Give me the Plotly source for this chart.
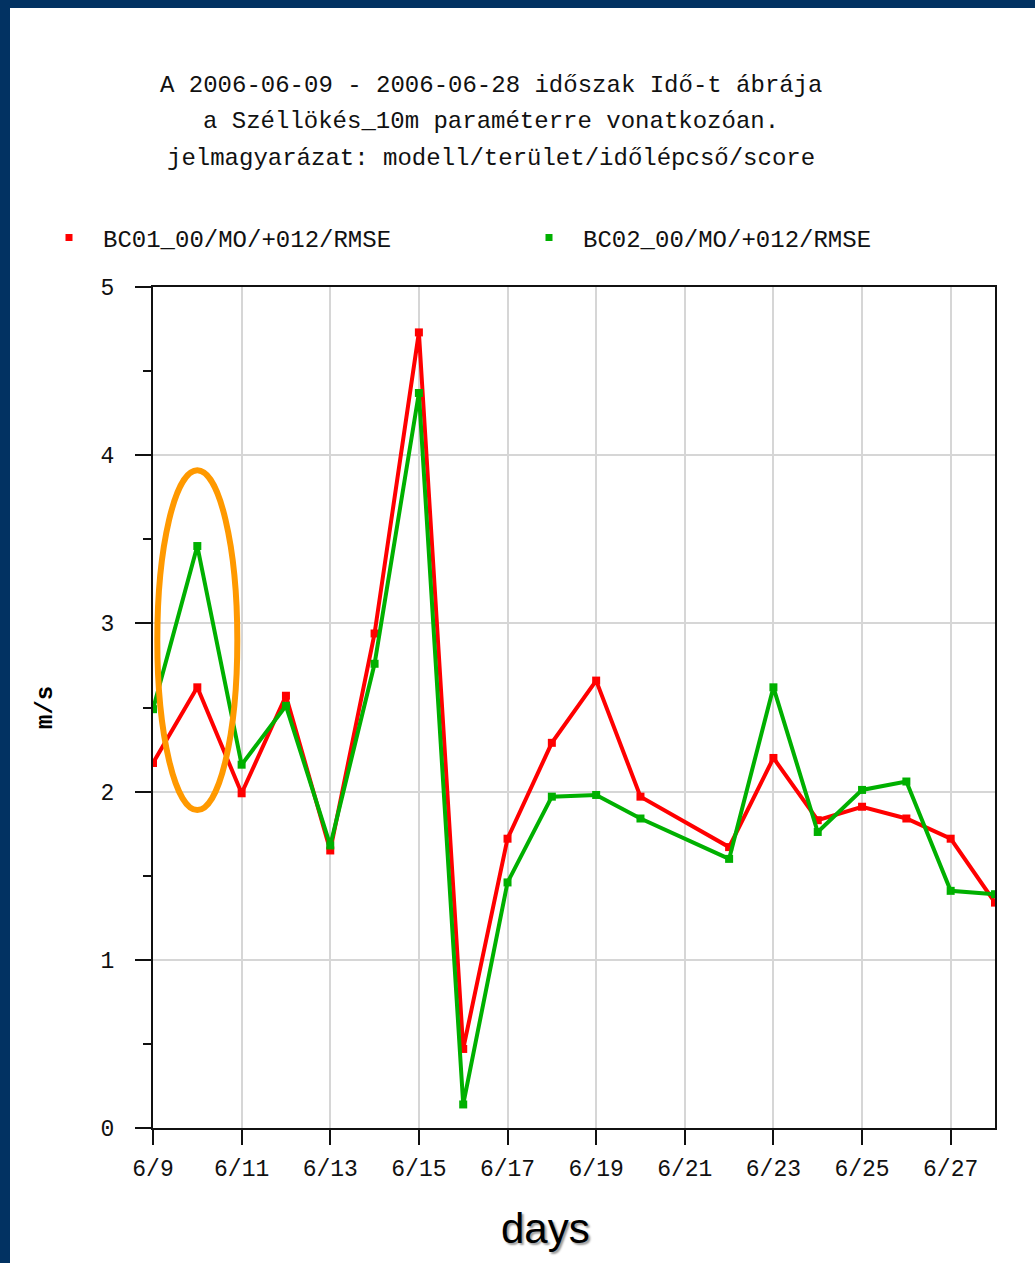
import plotly.graph_objects as go

# Daily RMSE of 10 m wind gust, 12 h forecasts, two model runs
days = ["2006-06-09", "2006-06-10", "2006-06-11", "2006-06-12", "2006-06-13",
        "2006-06-14", "2006-06-15", "2006-06-16", "2006-06-17", "2006-06-18",
        "2006-06-19", "2006-06-20", "2006-06-22", "2006-06-23", "2006-06-24",
        "2006-06-25", "2006-06-26", "2006-06-27", "2006-06-28"]
bc01_rmse = [2.17, 2.62, 1.99, 2.57, 1.65, 2.94, 4.73, 0.47, 1.72, 2.29,
             2.66, 1.97, 1.67, 2.20, 1.83, 1.91, 1.84, 1.72, 1.34]
bc02_rmse = [2.49, 3.46, 2.16, 2.51, 1.68, 2.76, 4.37, 0.14, 1.46, 1.97,
             1.98, 1.84, 1.60, 2.62, 1.76, 2.01, 2.06, 1.41, 1.39]

series_names = ["BC01_00/MO/+012/RMSE", "BC02_00/MO/+012/RMSE"]
tick_days = ["2006-06-09", "2006-06-11", "2006-06-13", "2006-06-15", "2006-06-17",
             "2006-06-19", "2006-06-21", "2006-06-23", "2006-06-25", "2006-06-27"]
tick_text = ["6/9", "6/11", "6/13", "6/15", "6/17", "6/19", "6/21", "6/23", "6/25", "6/27"]
title_lines = ["A 2006-06-09 - 2006-06-28 időszak Idő-t ábrája",
               "a Széllökés_10m paraméterre vonatkozóan.",
               "jelmagyarázat: modell/terület/időlépcső/score"]

RED = "#ff0000"
GREEN = "#00b000"
NAVY = "#023262"
MONO = "Liberation Mono, DejaVu Sans Mono, monospace"

W, H = 1035, 1263
L, R, T, B = 153, 40, 287, 135
pw, ph = W - L - R, H - T - B


def px(xp):
    return (xp - L) / pw


def py(yp):
    return (H - B - yp) / ph


fig = go.Figure()
for vals, color, name, leg in [(bc01_rmse, RED, series_names[0], "legend"),
                               (bc02_rmse, GREEN, series_names[1], "legend2")]:
    fig.add_trace(go.Scatter(
        x=days, y=vals, mode="lines+markers", name=name, showlegend=False,
        line=dict(color=color, width=4),
        marker=dict(symbol="square", size=8, color=color),
    ))
    # marker-only entry for the legend row
    fig.add_trace(go.Scatter(
        x=[None], y=[None], mode="markers", name=name, showlegend=True, legend=leg,
        marker=dict(symbol="square", size=7, color=color),
    ))

annotations = []
for i, line in enumerate(title_lines):
    annotations.append(dict(
        text=line, xref="paper", yref="paper", x=px(491), y=py(85 + 37 * i),
        xanchor="center", yanchor="middle", showarrow=False,
        font=dict(family=MONO, size=24, color="#111111"),
    ))
annotations.append(dict(
    text="<b>m/s</b>", xref="paper", yref="paper", x=px(45), y=py(707),
    textangle=-90, xanchor="center", yanchor="middle", showarrow=False,
    font=dict(family=MONO, size=24, color="#000000"),
))
annotations.append(dict(
    text="days", xref="paper", yref="paper", x=px(545), y=py(1228),
    xanchor="center", yanchor="middle", showarrow=False,
    font=dict(family="Liberation Sans, Arial, sans-serif", size=42, color="#000000",
              shadow="2px 2px 2px #9a9a9a"),
))

shapes = [
    # dark frame strips along the top and left edges
    dict(type="rect", xref="paper", yref="paper", x0=px(-5), x1=px(W + 5),
         y0=py(8), y1=py(-5), fillcolor=NAVY, line=dict(width=0), layer="below"),
    dict(type="rect", xref="paper", yref="paper", x0=px(-5), x1=px(10),
         y0=py(H + 5), y1=py(-5), fillcolor=NAVY, line=dict(width=0), layer="below"),
    # highlight around the 6/10 BC02 peak
    dict(type="circle", xref="x", yref="y",
         x0="2006-06-09 02:20", x1="2006-06-10 21:40", y0=1.89, y1=3.91,
         line=dict(color="#ff9900", width=6), layer="above"),
]

legend_style = dict(
    orientation="h", xanchor="left", yanchor="middle", itemwidth=58,
    font=dict(family=MONO, size=24, color="#111111"),
    bgcolor="rgba(0,0,0,0)",
)

fig.update_layout(
    width=W, height=H,
    margin=dict(l=L, r=R, t=T, b=B, pad=0),
    paper_bgcolor="white", plot_bgcolor="white",
    showlegend=True,
    legend=dict(x=px(35), y=py(238), **legend_style),
    legend2=dict(x=px(515), y=py(238), **legend_style),
    annotations=annotations,
    shapes=shapes,
    font=dict(family=MONO, size=23, color="#111111"),
)

fig.update_xaxes(
    type="date", range=["2006-06-09", "2006-06-28"],
    tickvals=tick_days, ticktext=tick_text,
    ticks="outside", ticklen=15, tickwidth=2, tickcolor="#111111",
    showline=True, linecolor="#111111", linewidth=2, mirror=True,
    showgrid=True, gridcolor="#d6d6d6", gridwidth=2,
    zeroline=False, ticklabelstandoff=3,
    tickfont=dict(family=MONO, size=23, color="#111111"),
)
fig.update_yaxes(
    range=[0, 5], tickvals=[0, 1, 2, 3, 4, 5],
    ticks="outside", ticklen=16, tickwidth=2, tickcolor="#111111",
    minor=dict(tickvals=[0.5, 1.5, 2.5, 3.5, 4.5], ticks="outside", ticklen=8,
               tickwidth=2, tickcolor="#111111", showgrid=False),
    showline=True, linecolor="#111111", linewidth=2, mirror=True,
    showgrid=True, gridcolor="#d6d6d6", gridwidth=2,
    zeroline=False, ticklabelstandoff=16,
    tickfont=dict(family=MONO, size=23, color="#111111"),
)

fig.write_html("out.html")
